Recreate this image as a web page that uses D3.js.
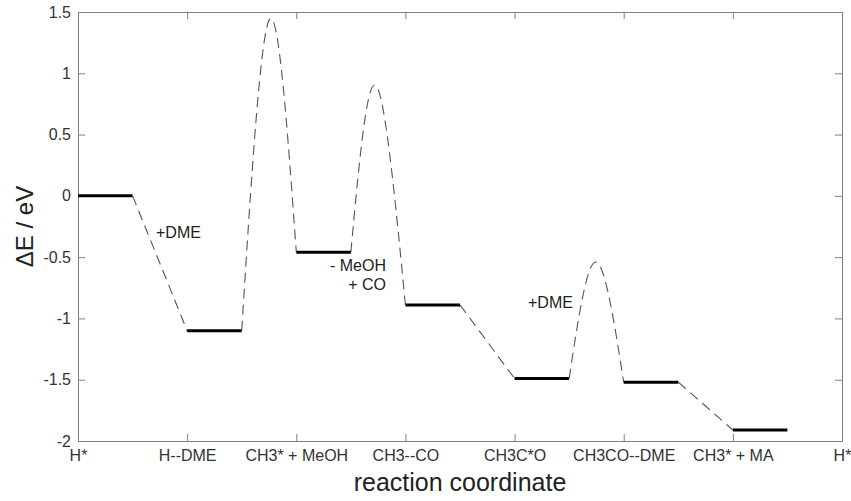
<!DOCTYPE html>
<html>
<head>
<meta charset="utf-8">
<script src="https://cdn.jsdelivr.net/npm/d3@7"></script>
<style>
  body { margin: 0; background: #fff; }
  .axis text { font-family: "Liberation Sans", Arial, sans-serif; font-size: 16px; fill: #333; }
  .axis path, .axis line { stroke: #808080; }
  .note { font-family: "Liberation Sans", Arial, sans-serif; font-size: 16px; fill: #222; }
</style>
</head>
<body>
<svg id="chart"></svg>
<script>
// states along the reaction coordinate (tick labels)
var states = ["H*", "H--DME", "CH3* + MeOH", "CH3--CO", "CH3C*O", "CH3CO--DME", "CH3* + MA", "H*"];
// energy of each intermediate, eV
var levels = [0, -1.1, -0.46, -0.89, -1.49, -1.52, -1.91];
// transition states: which step they sit after, where the top is, how high
var tsAfter = [1, 2, 4];
var tsPos = [1.755, 2.73, 4.745];
var tsEnergy = [1.44, 0.9, -0.54];
var yTicks = [-2, -1.5, -1, -0.5, 0, 0.5, 1, 1.5];

var width = 851, height = 501;
var margin = {top: 12, left: 78, right: 9, bottom: 60};

var svg = d3.select("#chart")
    .attr("width", width)
    .attr("height", height);

var x = d3.scaleLinear()
    .domain([0, states.length - 1])
    .range([margin.left, width - margin.right]);

var y = d3.scaleLinear()
    .domain([-2, 1.5])
    .range([height - margin.bottom, margin.top]);

// box with inward ticks on all sides
svg.append("g")
    .attr("class", "axis")
    .attr("transform", `translate(0,${height - margin.bottom})`)
    .call(d3.axisBottom(x).tickValues(d3.range(states.length)).tickSize(-7).tickPadding(9)
        .tickFormat(function(d) { return states[d]; }));

svg.append("g")
    .attr("class", "axis")
    .attr("transform", `translate(0,${margin.top})`)
    .call(d3.axisTop(x).tickValues(d3.range(states.length)).tickSize(-7).tickFormat(""));

svg.append("g")
    .attr("class", "axis")
    .attr("transform", `translate(${margin.left},0)`)
    .call(d3.axisLeft(y).tickValues(yTicks).tickSize(-7).tickPadding(7)
        .tickFormat(function(d) { return String(d); }));

svg.append("g")
    .attr("class", "axis")
    .attr("transform", `translate(${width - margin.right},0)`)
    .call(d3.axisRight(y).tickValues(yTicks).tickSize(-7).tickFormat(""));

// connectors between levels
var line = d3.line().x(function(d) { return x(d[0]); }).y(function(d) { return y(d[1]); });

for (var i = 0; i < levels.length - 1; i++) {
    var a = [i + 0.5, levels[i]], b = [i + 1, levels[i + 1]];
    var k = tsAfter.indexOf(i);
    var pts = k < 0 ? [a, b] : [a, [tsPos[k], tsEnergy[k]], b];
    svg.append("path")
        .attr("d", line.curve(k < 0 ? d3.curveLinear : d3.curveNatural)(pts))
        .attr("fill", "none")
        .attr("stroke", "#555")
        .attr("stroke-width", 1.1)
        .attr("stroke-dasharray", "10,6");
}

// energy levels
svg.selectAll(".level")
    .data(levels)
    .enter().append("line")
    .attr("class", "level")
    .attr("x1", function(d, i) { return x(i); })
    .attr("x2", function(d, i) { return x(i + 0.5); })
    .attr("y1", function(d) { return y(d); })
    .attr("y2", function(d) { return y(d); })
    .attr("stroke", "#000")
    .attr("stroke-width", 3);

// notes
svg.append("text").attr("class", "note").attr("x", 156).attr("y", 238).text("+DME");
svg.append("text").attr("class", "note").attr("x", 386).attr("y", 271).attr("text-anchor", "end").text("- MeOH");
svg.append("text").attr("class", "note").attr("x", 386).attr("y", 290).attr("text-anchor", "end").text("+ CO");
svg.append("text").attr("class", "note").attr("x", 528).attr("y", 308).text("+DME");

// axis titles
svg.append("text")
    .attr("x", (margin.left + width - margin.right) / 2)
    .attr("y", 491)
    .attr("text-anchor", "middle")
    .style("font-family", "Liberation Sans, Arial, sans-serif")
    .style("font-size", "25px")
    .style("fill", "#222")
    .text("reaction coordinate");

svg.append("text")
    .attr("transform", `translate(33,${(margin.top + height - margin.bottom) / 2}) rotate(-90)`)
    .attr("text-anchor", "middle")
    .style("font-family", "Liberation Sans, Arial, sans-serif")
    .style("font-size", "24px")
    .style("fill", "#222")
    .text("\u0394E / eV");
</script>
</body>
</html>
